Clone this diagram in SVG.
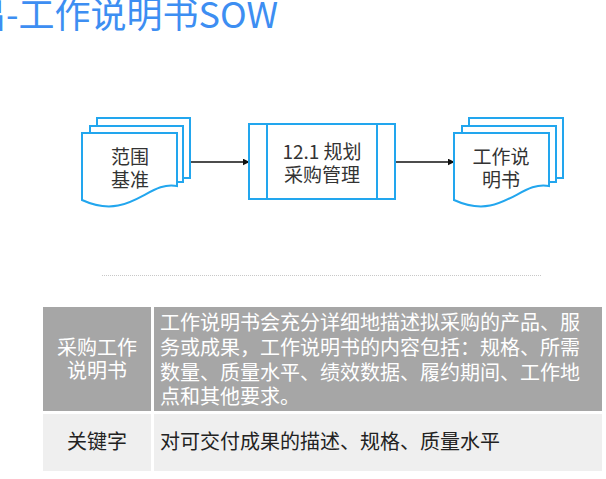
<svg xmlns="http://www.w3.org/2000/svg" width="606" height="479" viewBox="0 0 606 479">
<defs>
<style>
.t{font-family:"Noto Sans CJK SC","Noto Sans",sans-serif;}
.title{font-size:36px;fill:#3d8ef2;}
.shape{fill:#fff;stroke:#22a6ee;stroke-width:2;}
.nt{font-size:19px;fill:#333;text-anchor:middle;}
.conn{stroke:#111;stroke-width:1.5;fill:none;}
.cw{font-size:20px;fill:#fff;}
.cd{font-size:20px;fill:#222;}
.mid{text-anchor:middle;}
</style>
<marker id="ah" viewBox="0 0 10 10" refX="9" refY="5" markerWidth="7" markerHeight="7" markerUnits="userSpaceOnUse" orient="auto">
<path d="M0,0 L10,5 L0,10 Z" fill="#111"/>
</marker>
<path id="docf" d="M0,0 H95 V53 C66,47 48,89 0,67 Z"/>
</defs>
<rect width="606" height="479" fill="#fff"/>
<text class="t title" x="-30" y="28">出-工作说明书SOW</text>

<g id="connectors">
<line class="conn" x1="190" y1="162" x2="249" y2="162" marker-end="url(#ah)"/>
<line class="conn" x1="395" y1="162" x2="454" y2="162" marker-end="url(#ah)"/>
</g>

<g id="node-scope">
<rect class="shape" x="97" y="118" width="93" height="60"/>
<rect class="shape" x="90" y="126" width="93" height="56"/>
<use href="#docf" class="shape" x="82" y="133"/>
<text class="t nt" x="130" y="164">范围</text>
<text class="t nt" x="130" y="187">基准</text>
</g>

<g id="node-process">
<rect class="shape" x="249" y="124" width="146" height="75"/>
<line class="shape" x1="267" y1="124" x2="267" y2="199"/>
<line class="shape" x1="377" y1="124" x2="377" y2="199"/>
<text class="t nt" x="322" y="159">12.1 规划</text>
<text class="t nt" x="322" y="182">采购管理</text>
</g>

<g id="node-sow">
<rect class="shape" x="469" y="118" width="94" height="60"/>
<rect class="shape" x="462" y="126" width="94" height="56"/>
<use href="#docf" class="shape" x="454" y="133"/>
<text class="t nt" x="501" y="164">工作说</text>
<text class="t nt" x="501" y="187">明书</text>
</g>

<line x1="102" y1="275.5" x2="541" y2="275.5" stroke="#c8c8c8" stroke-width="1" stroke-dasharray="1,1"/>

<g id="table">
<rect x="43" y="307" width="108" height="104" fill="#a6a6a6"/>
<rect x="154" y="307" width="448" height="104" fill="#a6a6a6"/>
<rect x="43" y="414" width="108" height="57" fill="#efefef"/>
<rect x="154" y="414" width="448" height="57" fill="#efefef"/>
<text class="t cw mid" x="97" y="355">采购工作</text>
<text class="t cw mid" x="97" y="378">说明书</text>
<text class="t cw" x="160" y="330">工作说明书会充分详细地描述拟采购的产品、服</text>
<text class="t cw" x="160" y="355">务或成果，工作说明书的内容包括：规格、所需</text>
<text class="t cw" x="160" y="380">数量、质量水平、绩效数据、履约期间、工作地</text>
<text class="t cw" x="160" y="404">点和其他要求。</text>
<text class="t cd mid" x="97" y="449">关键字</text>
<text class="t cd" x="160" y="449">对可交付成果的描述、规格、质量水平</text>
</g>
</svg>
